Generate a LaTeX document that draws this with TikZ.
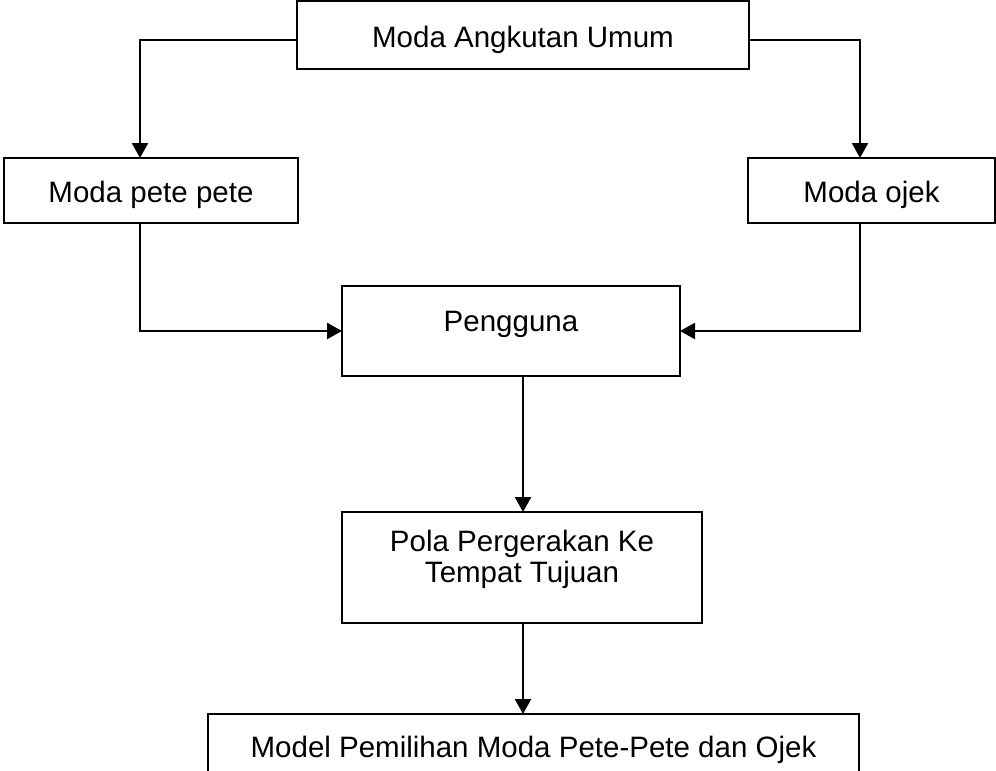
\documentclass[tikz,border=0pt]{standalone}
\usepackage{fontspec}
\setmainfont{Liberation Sans}
\usetikzlibrary{arrows.meta}
\begin{document}
\begin{tikzpicture}[x=1pt,y=-1pt,
  box/.style={draw, line width=2.3pt, rectangle, inner sep=0pt, outer sep=0pt, anchor=north west, font=\fontsize{29.5}{31}\selectfont},
  arr/.style={line width=2.3pt, -{Triangle[width=16pt,length=15pt]}}]
\path[use as bounding box] (0,0) rectangle (996,771);
\clip (0,0) rectangle (996,771);

\node[box, minimum width=452pt, minimum height=68pt, text height=24pt, text depth=0pt] (umum) at (297,1) {Moda Angkutan Umum};
\node[box, minimum width=294pt, minimum height=65pt, text height=23pt, text depth=0pt] (pete) at (4,158) {Moda pete pete};
\node[box, minimum width=247pt, minimum height=65pt, text height=23pt, text depth=0pt] (ojek) at (748,158) {Moda ojek};
\node[box, minimum width=338pt, minimum height=90pt, text height=0pt, text depth=0pt] (user) at (342,286) {Pengguna};
\node[box, minimum width=360pt, minimum height=111pt, align=center, text height=29pt, text depth=0pt] (pola) at (342,512) {Pola Pergerakan Ke\\Tempat Tujuan};
\node[box, minimum width=651pt, minimum height=62pt, text height=24pt, text depth=0pt] (model) at (208,714) {Model Pemilihan Moda Pete-Pete dan Ojek};

\draw[arr] (umum.west |- 0,40) -| (pete.north -| 140,0);
\draw[arr] (umum.east |- 0,40) -| (ojek.north -| 860,0);
\draw[arr] (pete.south -| 140,0) |- (user.west);
\draw[arr] (ojek.south -| 860,0) |- (user.east);
\draw[arr] (user.south -| 523,0) -- (pola.north -| 523,0);
\draw[arr] (pola.south -| 523,0) -- (model.north -| 523,0);
\end{tikzpicture}
\end{document}
